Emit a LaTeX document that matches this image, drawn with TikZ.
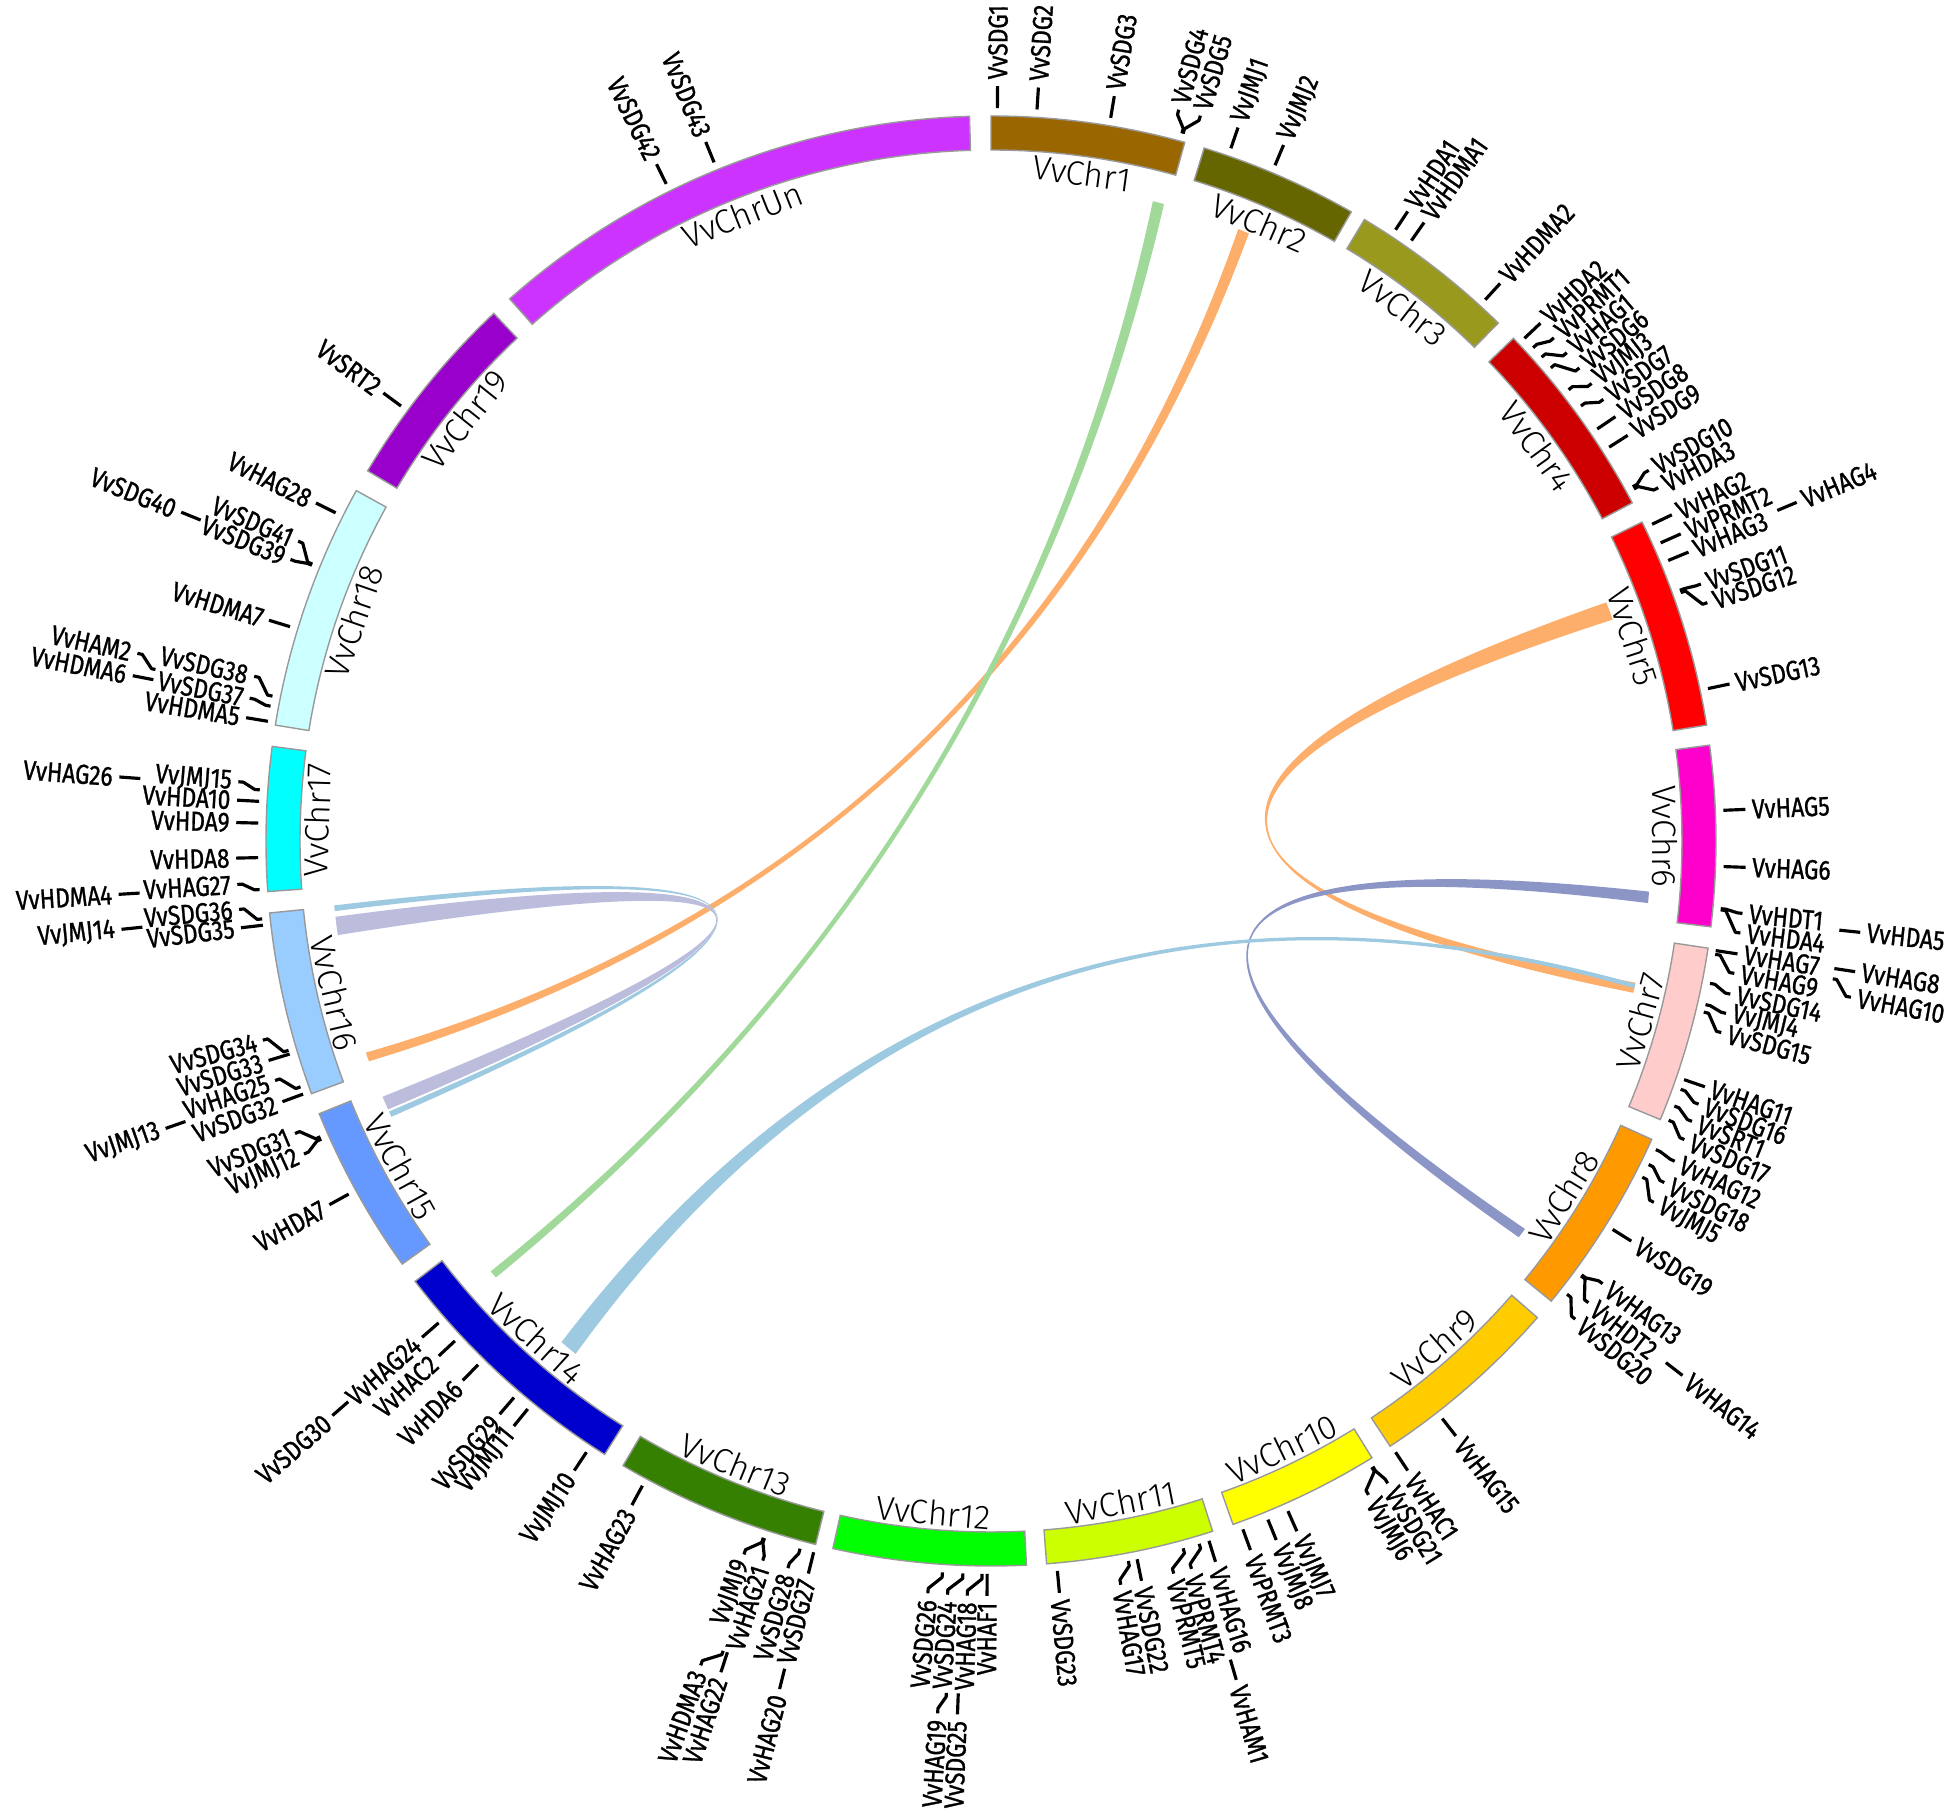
\documentclass[tikz,border=0pt]{standalone}
\usepackage{fontspec}
\usepackage{tikz}
\usetikzlibrary{calc}
\newfontfamily\genefont{Fira Sans}[FakeStretch=0.83,FakeBold=1]
\newfontfamily\chrfont{Fira Sans Light}
\definecolor{chr1}{HTML}{996600}
\definecolor{chr2}{HTML}{666600}
\definecolor{chr3}{HTML}{99991E}
\definecolor{chr4}{HTML}{CC0000}
\definecolor{chr5}{HTML}{FF0000}
\definecolor{chr6}{HTML}{FF00CC}
\definecolor{chr7}{HTML}{FFCCCC}
\definecolor{chr8}{HTML}{FF9900}
\definecolor{chr9}{HTML}{FFCC00}
\definecolor{chr10}{HTML}{FFFF00}
\definecolor{chr11}{HTML}{CCFF00}
\definecolor{chr12}{HTML}{00FF00}
\definecolor{chr13}{HTML}{358000}
\definecolor{chr14}{HTML}{0000CC}
\definecolor{chr15}{HTML}{6699FF}
\definecolor{chr16}{HTML}{99CCFF}
\definecolor{chr17}{HTML}{00FFFF}
\definecolor{chr18}{HTML}{CCFFFF}
\definecolor{chr19}{HTML}{9900CC}
\definecolor{chrun}{HTML}{CC33FF}
\definecolor{lgreen}{HTML}{A1D99B}
\definecolor{lorange}{HTML}{FDAE6B}
\definecolor{bpurple}{HTML}{8C96C6}
\definecolor{lblue}{HTML}{9ECAE1}
\definecolor{lavender}{HTML}{BCBDDC}
\tikzset{
  chrom/.style={draw=gray!80, line width=0.4pt},
  chrlab/.style={font=\chrfont\fontsize{9.6}{11}\selectfont, inner sep=0pt},
  lab/.style={font=\genefont\fontsize{7.8}{9}\selectfont, inner sep=0pt},
  tick/.style={line width=0.9pt, line join=round},
  link/.style={draw=none},
}
% chromosome band: start, end, colour, name
\newcommand{\chrom}[4]{%
  \pgfmathsetmacro{\chrmid}{(#1+#2)/2}
  \pgfmathsetmacro{\chrsin}{sin(\chrmid)}
  \filldraw[chrom, fill=#3] (#1:691) arc[start angle=#1, end angle=#2, radius=691]
    -- (#2:725) arc[start angle=#2, end angle=#1, radius=725] -- cycle;
  \ifdim\chrsin pt>0pt
    \node[chrlab, rotate=\chrmid-90] (#4) at (\chrmid:674) {#4};
  \else
    \node[chrlab, rotate=\chrmid+90] (#4) at (\chrmid:674) {#4};
  \fi}
% gene label: gene angle, label angle, name
\newcommand{\gene}[3]{%
  \draw[tick] (#1:733) -- (#1:738) -- (#2:750) -- (#2:755);
  \pgfmathsetmacro{\labcos}{cos(#2)}
  \ifdim\labcos pt>0pt
    \node[lab, anchor=west, rotate=#2] (#3) at (#2:761) {#3};
  \else
    \node[lab, anchor=east, rotate=#2+180] (#3) at (#2:761) {#3};
  \fi}
% second ring of labels
\newcommand{\outgene}[3]{%
  \draw[tick] (#1:853) -- (#1:857) -- (#2:869) -- (#2:874);
  \pgfmathsetmacro{\labcos}{cos(#2)}
  \ifdim\labcos pt>0pt
    \node[lab, anchor=west, rotate=#2] (#3) at (#2:880) {#3};
  \else
    \node[lab, anchor=east, rotate=#2+180] (#3) at (#2:880) {#3};
  \fi}
% link: colour, a1, a2, b1, b2
\newcommand{\ribbon}[5]{%
  \coordinate (pa) at ({(#2+#3)/2}:660);
  \coordinate (pb) at ({(#4+#5)/2}:660);
  \coordinate (pm) at ($(pa)!0.5!(pb)$);
  \coordinate (ctl) at ($(0,0)!-0.128!(pm)$);
  \fill[link, #1] (#2:660) arc[start angle=#2, end angle=#3, radius=660]
    .. controls ($(#3:660)!2/3!(ctl)$) and ($(#4:660)!2/3!(ctl)$) .. (#4:660)
    arc[start angle=#4, end angle=#5, radius=660]
    .. controls ($(#5:660)!2/3!(ctl)$) and ($(#2:660)!2/3!(ctl)$) .. (#2:660) -- cycle;}

\begin{document}
\begin{tikzpicture}[x=0.01cm, y=0.01cm]
  \useasboundingbox (-991,-978) rectangle (955,841);

  % links
  \ribbon{lorange}{67.0}{68.0}{-161.3}{-160.5}
  \ribbon{lgreen}{74.8}{75.8}{-139.3}{-138.6}
  \ribbon{lorange}{19.6}{21.2}{-13.3}{-12.4}
  \ribbon{bpurple}{-5.4}{-4.4}{-36.9}{-36.0}
  \ribbon{lblue}{-12.9}{-12.5}{-130.6}{-129.0}
  \ribbon{lavender}{-173.4}{-171.8}{-157.2}{-156.0}
  \ribbon{lblue}{-174.4}{-173.9}{-155.8}{-155.3}

  % chromosomes
  \chrom{90.0}{74.5}{chr1}{VvChr1}
  \chrom{72.9}{60.2}{chr2}{VvChr2}
  \chrom{59.0}{45.6}{chr3}{VvChr3}
  \chrom{43.9}{27.8}{chr4}{VvChr4}
  \chrom{26.1}{9.2}{chr5}{VvChr5}
  \chrom{7.6}{-6.8}{chr6}{VvChr6}
  \chrom{-8.5}{-22.6}{chr7}{VvChr7}
  \chrom{-24.3}{-39.4}{chr8}{VvChr8}
  \chrom{-41.1}{-56.6}{chr9}{VvChr9}
  \chrom{-58.3}{-70.5}{chr10}{VvChr10}
  \chrom{-72.2}{-85.6}{chr11}{VvChr11}
  \chrom{-87.2}{-102.6}{chr12}{VvChr12}
  \chrom{-104.0}{-120.5}{chr13}{VvChr13}
  \chrom{-122.2}{-142.6}{chr14}{VvChr14}
  \chrom{-144.3}{-157.9}{chr15}{VvChr15}
  \chrom{-159.6}{-174.3}{chr16}{VvChr16}
  \chrom{-176.0}{-187.5}{chr17}{VvChr17}
  \chrom{170.8}{151.1}{chr18}{VvChr18}
  \chrom{149.3}{133.3}{chr19}{VvChr19}
  \chrom{131.6}{91.7}{chrun}{VvChrUn}

  % genes
  \gene{89.5}{89.5}{VvSDG1}
  \gene{86.4}{86.4}{VvSDG2}
  \gene{80.6}{80.6}{VvSDG3}
  \gene{74.9}{75.6}{VvSDG4}
  \gene{74.8}{73.9}{VvSDG5}
  \gene{70.9}{70.9}{VvJMJ1}
  \gene{67.2}{67.2}{VvJMJ2}
  \gene{56.5}{56.5}{VvHDA1}
  \gene{55.0}{55.0}{VvHDMA1}
  \gene{47.6}{47.6}{VvHDMA2}
  \gene{43.3}{43.3}{VvHDA2}
  \gene{42.3}{41.8}{VvPRMT1}
  \gene{41.3}{40.3}{VvHAG1}
  \gene{40.2}{38.8}{VvSDG6}
  \gene{38.0}{37.3}{VvJMJ3}
  \gene{36.4}{35.8}{VvSDG7}
  \gene{34.2}{34.2}{VvSDG8}
  \gene{32.5}{32.5}{VvSDG9}
  \gene{28.9}{29.4}{VvSDG10}
  \gene{28.7}{27.9}{VvHDA3}
  \gene{25.6}{25.6}{VvHAG2}
  \gene{24.0}{24.0}{VvPRMT2}
  \gene{22.5}{22.5}{VvHAG3}
  \outgene{22.8}{22.8}{VvHAG4}
  \gene{20.0}{19.9}{VvSDG11}
  \gene{19.8}{18.4}{VvSDG12}
  \gene{12.0}{12.0}{VvSDG13}
  \gene{2.4}{2.4}{VvHAG5}
  \gene{-2.0}{-2.0}{VvHAG6}
  \gene{-5.3}{-5.5}{VvHDT1}
  \gene{-5.4}{-7.0}{VvHDA4}
  \outgene{-6.0}{-6.0}{VvHDA5}
  \gene{-8.6}{-8.6}{VvHAG7}
  \gene{-8.9}{-10.1}{VvHAG9}
  \gene{-11.2}{-11.7}{VvSDG14}
  \gene{-12.9}{-13.2}{VvJMJ4}
  \gene{-13.5}{-14.7}{VvSDG15}
  \outgene{-8.6}{-8.6}{VvHAG8}
  \outgene{-9.3}{-10.3}{VvHAG10}
  \gene{-19.0}{-19.0}{VvHAG11}
  \gene{-19.8}{-20.4}{VvSDG16}
  \gene{-21.2}{-21.8}{VvSRT1}
  \gene{-22.4}{-23.3}{VvSDG17}
  \gene{-24.9}{-25.1}{VvHAG12}
  \gene{-26.2}{-26.9}{VvSDG18}
  \gene{-27.3}{-28.6}{VvJMJ5}
  \gene{-32.0}{-32.0}{VvSDG19}
  \gene{-36.3}{-35.9}{VvHAG13}
  \gene{-36.4}{-37.7}{VvHDT2}
  \gene{-38.2}{-39.3}{VvSDG20}
  \outgene{-37.7}{-37.7}{VvHAG14}
  \gene{-52.0}{-52.0}{VvHAG15}
  \gene{-56.5}{-56.5}{VvHAC1}
  \gene{-58.6}{-58.3}{VvSDG21}
  \gene{-58.7}{-60.0}{VvJMJ6}
  \gene{-66.1}{-66.1}{VvJMJ7}
  \gene{-67.8}{-67.8}{VvJMJ8}
  \gene{-69.9}{-69.9}{VvPRMT3}
  \gene{-72.7}{-72.7}{VvHAG16}
  \gene{-73.5}{-74.6}{VvPRMT4}
  \gene{-74.8}{-76.0}{VvPRMT5}
  \outgene{-73.7}{-73.7}{VvHAM1}
  \gene{-78.5}{-78.5}{VvSDG22}
  \gene{-79.2}{-80.1}{VvHAG17}
  \gene{-84.8}{-84.8}{VvSDG23}
  \gene{-90.3}{-90.3}{VvHAF1}
  \gene{-90.7}{-91.8}{VvHAG18}
  \gene{-92.2}{-93.3}{VvSDG24}
  \gene{-93.8}{-94.8}{VvSDG26}
  \outgene{-93.0}{-93.5}{VvHAG19}
  \outgene{-92.2}{-92.2}{VvSDG25}
  \gene{-104.0}{-104.0}{VvSDG27}
  \gene{-105.1}{-105.6}{VvSDG28}
  \gene{-108.0}{-107.6}{VvHAG21}
  \gene{-108.1}{-109.1}{VvJMJ9}
  \outgene{-108.3}{-109.4}{VvHDMA3}
  \outgene{-108.0}{-108.0}{VvHAG22}
  \outgene{-104.0}{-104.0}{VvHAG20}
  \gene{-118.4}{-118.4}{VvHAG23}
  \gene{-123.5}{-123.5}{VvJMJ10}
  \gene{-129.2}{-129.2}{VvJMJ11}
  \gene{-130.6}{-130.6}{VvSDG29}
  \gene{-134.4}{-134.4}{VvHDA6}
  \gene{-137.0}{-137.0}{VvHAC2}
  \gene{-138.9}{-138.9}{VvHAG24}
  \outgene{-138.9}{-138.9}{VvSDG30}
  \gene{-151.2}{-151.2}{VvHDA7}
  \gene{-156.0}{-155.5}{VvJMJ12}
  \gene{-156.2}{-157.2}{VvSDG31}
  \outgene{-160.8}{-160.8}{VvJMJ13}
  \gene{-159.8}{-159.8}{VvSDG32}
  \gene{-160.4}{-161.5}{VvHAG25}
  \gene{-163.1}{-163.1}{VvSDG33}
  \gene{-163.4}{-164.7}{VvSDG34}
  \gene{-173.4}{-173.4}{VvSDG35}
  \gene{-173.9}{-174.8}{VvSDG36}
  \outgene{-174.2}{-174.2}{VvJMJ14}
  \gene{-176.2}{-176.7}{VvHAG27}
  \outgene{-176.5}{-176.5}{VvHDMA4}
  \gene{181.3}{181.3}{VvHDA8}
  \gene{178.6}{178.6}{VvHDA9}
  \gene{176.9}{176.9}{VvHDA10}
  \gene{176.0}{175.5}{VvJMJ15}
  \outgene{175.8}{175.8}{VvHAG26}
  \gene{170.6}{170.6}{VvHDMA5}
  \gene{169.4}{169.1}{VvSDG37}
  \gene{168.6}{167.4}{VvSDG38}
  \outgene{169.1}{169.1}{VvHDMA6}
  \outgene{168.4}{167.6}{VvHAM2}
  \gene{163.0}{163.0}{VvHDMA7}
  \gene{157.9}{158.1}{VvSDG39}
  \gene{157.8}{156.6}{VvSDG41}
  \outgene{157.9}{157.9}{VvSDG40}
  \gene{153.4}{153.4}{VvHAG28}
  \gene{143.6}{143.6}{VvSRT2}
  \gene{116.3}{116.3}{VvSDG42}
  \gene{112.2}{112.2}{VvSDG43}
\end{tikzpicture}
\end{document}
